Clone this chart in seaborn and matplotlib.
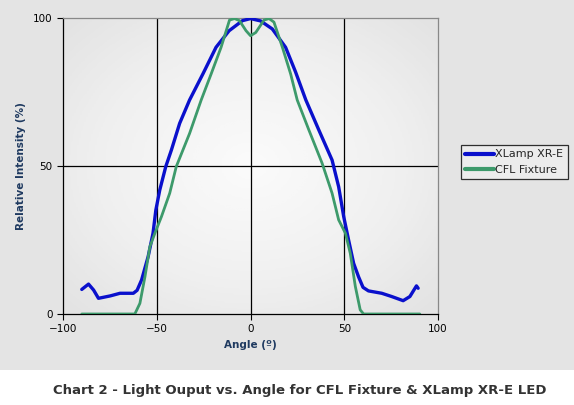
import matplotlib
matplotlib.use("Agg")
import matplotlib.pyplot as plt
import numpy as np
import pandas as pd
import seaborn as sns
from matplotlib.patches import Rectangle

# values
xlamp_angle = [-90, -86.4, -83.7, -81.1, -74.9, -69.6, -62.5, -60.5, -58.1, -54.6, -52,
               -50.5, -48.4, -45.2, -42.2, -37.8, -32.5, -25.4, -18.4, -11.4, -4.3, 0,
               5.4, 11.6, 18.7, 24, 29.5, 36.4, 43.5, 47, 49.7, 52.3, 55, 57.6, 60,
               62.9, 70, 75.3, 81.4, 85, 88.5, 89.4]
xlamp_intensity = [8.3, 10.1, 8.1, 5.3, 6.1, 7.0, 7.0, 8.0, 11.5, 19.4, 27.3,
                   35.1, 41.9, 49.8, 55.4, 64.4, 72.3, 81.1, 90.1, 95.7, 99.1, 99.8,
                   99.0, 96.3, 90.1, 81.8, 72.3, 62.2, 52.0, 43.0, 32.9, 25.0, 17.1, 12.6, 9.0,
                   7.8, 7.0, 5.9, 4.5, 5.9, 9.5, 8.7]

cfl_angle = [-90, -61.7, -59, -56.3, -53.7, -51, -47.5, -43.1, -39.6, -32.5, -26.3,
             -21, -15.7, -11.2, -8.5, -5.9, -2.4, 0, 2.8, 7.2, 9.9, 12.5, 17, 21.4,
             24.9, 31.1, 38.2, 43.5, 47, 50.6, 53.2, 55.9, 58.5, 60.3, 90.3]
cfl_intensity = [0, 0, 3.6, 12.6, 22.7, 27.3, 32.9, 40.8, 49.8, 61.0, 72.3,
                 81.1, 90.1, 99.3, 99.8, 99.1, 95.7, 94.0, 95.1, 99.3, 99.8, 98.6, 90.1, 81.1,
                 72.3, 62.2, 50.9, 40.8, 31.8, 27.3, 20.5, 9.3, 1.4, 0, 0]

series_names = ["XLamp XR-E", "CFL Fixture"]
x_ticks = [-100, -50, 0, 50, 100]
y_ticks = [0, 50, 100]

df = pd.concat([
    pd.DataFrame({"angle": xlamp_angle, "intensity": xlamp_intensity, "series": series_names[0]}),
    pd.DataFrame({"angle": cfl_angle, "intensity": cfl_intensity, "series": series_names[1]}),
], ignore_index=True)

sns.set_style("white")
plt.rcParams["font.family"] = ["DejaVu Sans"]

fig = plt.figure(figsize=(5.74, 4.05), dpi=100)
fig.patch.set_facecolor("white")
fig.patches.append(Rectangle((0, 0.086), 1, 0.914, transform=fig.transFigure,
                             facecolor="#e4e4e4", edgecolor="none", zorder=-10))

ax = fig.add_axes([0.1098, 0.2247, 0.6533, 0.7309])

# radial gradient background of the plot area
gx, gy = np.meshgrid(np.linspace(-1, 1, 200), np.linspace(-1, 1, 200))
r = np.clip(np.sqrt(gx ** 2 + gy ** 2) / 1.35, 0, 1)
ax.imshow(r, cmap="Greys", vmin=-0.2, vmax=6.0, extent=[-100, 100, 0, 100],
          aspect="auto", zorder=0, interpolation="bilinear")

palette = {series_names[0]: "#0a10cc", series_names[1]: "#3d9a6b"}
sns.lineplot(data=df, x="angle", y="intensity", hue="series", palette=palette,
             sort=False, estimator=None, ax=ax, zorder=3)
for line, lw in zip(ax.get_lines(), [2.4, 2.0]):
    line.set_linewidth(lw)
    line.set_solid_joinstyle("round")

for v in [-50, 0, 50]:
    ax.axvline(v, color="black", lw=0.9, zorder=2)
ax.axhline(50, color="black", lw=0.9, zorder=2)

ax.set_xlim(-100, 100)
ax.set_ylim(0, 100)
ax.set_xticks(x_ticks)
ax.set_yticks(y_ticks)
ax.tick_params(axis="both", direction="out", length=4, width=0.8, labelsize=7.5,
               colors="black", bottom=True, left=True)
for side in ["left", "bottom"]:
    ax.spines[side].set_color("black")
    ax.spines[side].set_linewidth(0.9)
for side in ["top", "right"]:
    ax.spines[side].set_color("#888888")
    ax.spines[side].set_linewidth(0.9)

ax.set_xlabel("Angle (º)", fontsize=7.5, fontweight="bold", color="#1f3a60", labelpad=4)
ax.set_ylabel("Relative Intensity (%)", fontsize=7.5, fontweight="bold", color="#1f3a60", labelpad=5)

handles, labels = ax.get_legend_handles_labels()
for h in handles:
    h.set_linewidth(3)
leg = ax.legend(handles, labels, loc="upper left", bbox_to_anchor=(0.803, 0.642),
                bbox_transform=fig.transFigure, fontsize=8, frameon=True, fancybox=False,
                handlelength=2.6, handletextpad=0.1, borderpad=0.4, labelspacing=0.5,
                borderaxespad=0)
leg.get_frame().set_edgecolor("black")
leg.get_frame().set_linewidth(0.9)
leg.get_frame().set_facecolor("#efefef")

fig.text(0.093, 0.037, "Chart 2 - Light Ouput vs. Angle for CFL Fixture & XLamp XR-E LED",
         fontsize=9.5, fontweight="bold", color="#333333", ha="left", va="center")

fig.savefig("out.png", dpi=100)
plt.close(fig)
